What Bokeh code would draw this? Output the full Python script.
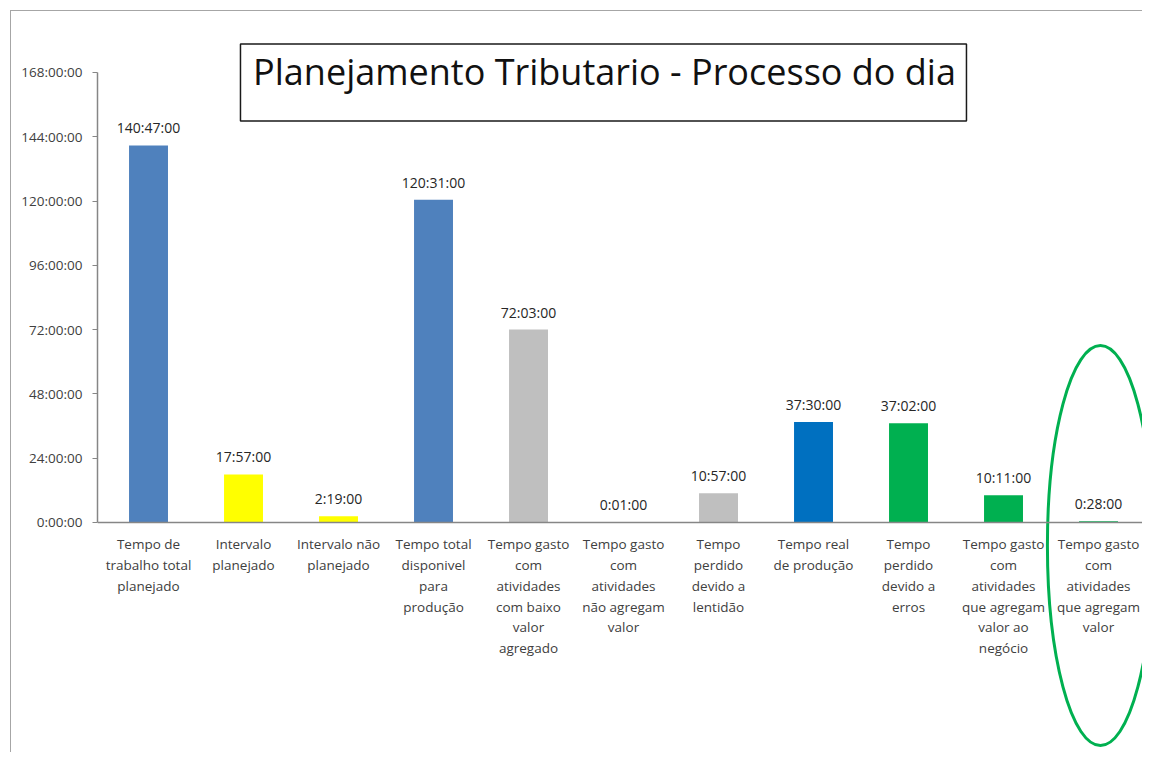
from bokeh.plotting import figure
from bokeh.models import Range1d, FixedTicker, CustomJSTickFormatter, Span, Label, BoxAnnotation, ColumnDataSource
from bokeh.core.properties import value
from bokeh.embed import file_html
from bokeh.resources import INLINE

# ---- data ----
categories = [
    "Tempo de\ntrabalho total\nplanejado",
    "Intervalo\nplanejado",
    "Intervalo não\nplanejado",
    "Tempo total\ndisponivel\npara\nprodução",
    "Tempo gasto\ncom\natividades\ncom baixo\nvalor\nagregado",
    "Tempo gasto\ncom\natividades\nnão agregam\nvalor",
    "Tempo\nperdido\ndevido a\nlentidão",
    "Tempo real\nde produção",
    "Tempo\nperdido\ndevido a\nerros",
    "Tempo gasto\ncom\natividades\nque agregam\nvalor ao\nnegócio",
    "Tempo gasto\ncom\natividades\nque agregam\nvalor",
]
durations = ["140:47:00", "17:57:00", "2:19:00", "120:31:00", "72:03:00", "0:01:00",
             "10:57:00", "37:30:00", "37:02:00", "10:11:00", "0:28:00"]
colors = ["#4F81BD", "#FFFF00", "#FFFF00", "#4F81BD", "#BFBFBF", "#BFBFBF",
          "#BFBFBF", "#0070C0", "#00B050", "#00B050", "#00B050"]
y_ticks = [0, 24, 48, 72, 96, 120, 144, 168]
title_text = "Planejamento Tributario - Processo do dia"


def to_hours(s):
    h, m, sec = (int(v) for v in s.split(":"))
    return h + m / 60 + sec / 3600


hours = [to_hours(d) for d in durations]
xs = list(range(len(categories)))

src = ColumnDataSource(dict(x=xs, top=hours, color=colors, label=durations, cat=categories))

FONT = "Open Sans"

p = figure(width=1142, height=752, output_backend="svg", toolbar_location=None,
           x_range=Range1d(-0.537, 10.463), y_range=Range1d(-85.87, 194.88),
           x_axis_location=None, min_border_left=97, min_border_right=0,
           min_border_top=0, min_border_bottom=0)
# chart-area border (left and top edges, as in the cropped original)
p.styles = {
    "background": ("linear-gradient(#a6a6a6,#a6a6a6) 10px 10px / 1px 760px no-repeat, "
                   "linear-gradient(#a6a6a6,#a6a6a6) 10px 10px / 1150px 1px no-repeat, white"),
}
p.border_fill_color = None
p.background_fill_color = None
p.grid.visible = False
p.outline_line_color = None

ax = p.yaxis[0]
ax.ticker = FixedTicker(ticks=y_ticks)
ax.formatter = CustomJSTickFormatter(code="return tick + ':00:00';")
ax.bounds = (0, 168)
ax.axis_line_color = "#868686"
ax.axis_line_width = 1.5
ax.major_tick_line_color = "#868686"
ax.major_tick_out = 5
ax.major_tick_in = 0
ax.minor_tick_line_color = None
ax.major_label_text_font = FONT
ax.major_label_text_font_size = "13.5px"
ax.major_label_text_color = "#404040"
ax.major_label_standoff = 10

p.vbar(x="x", top="top", bottom=0, width=0.41, fill_color="color", line_color=None, source=src)

p.add_layout(Span(location=0, dimension="width", line_color="#868686", line_width=1.5))

p.text(x="x", y="top", text="label", source=src, text_align="center", text_baseline="bottom",
       y_offset=-8, text_font=value(FONT), text_font_size="14px", text_color="#262626")

p.text(x="x", y=0, text="cat", source=src, text_align="center", text_baseline="top",
       y_offset=13, text_line_height=1.15, text_font=value(FONT), text_font_size="13.5px",
       text_color="#404040")

# title box
p.add_layout(BoxAnnotation(left=0.968, right=8.610, top=178.6, bottom=149.9,
                           fill_color=None, fill_alpha=0, line_color="#1a1a1a",
                           line_alpha=1.0, line_width=1.5))
p.add_layout(Label(x=4.80, y=168.2, text=title_text, text_align="center", text_baseline="middle",
                   text_font=FONT, text_font_size="36px", text_color="#111111"))

# highlight ellipse around the last category
p.ellipse(x=[xs[-1] + 0.02], y=[-8.6], width=106, height=400, width_units="screen",
          height_units="screen", fill_color=None, line_color="#00B050", line_width=3)

open("out.html", "w").write(file_html(p, INLINE))
